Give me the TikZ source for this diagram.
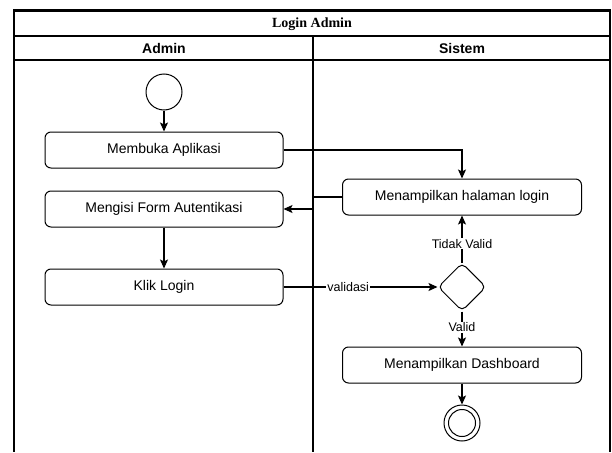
\documentclass[tikz,border=0pt]{standalone}
\usepackage{fontspec}
\setmainfont{Liberation Sans}
\newfontfamily\titlefont{Liberation Serif}
\usetikzlibrary{shapes.geometric,arrows.meta}
\tikzset{
  x=1pt,y=-1pt,
  act/.style={draw,rounded corners=6pt,minimum width=238pt,minimum height=36pt,inner sep=0pt,font=\fontsize{14}{16}\selectfont,line width=1pt},
  dec/.style={draw,diamond,rounded corners=5pt,minimum width=48pt,minimum height=48pt,inner sep=0pt,line width=1pt},
  startnode/.style={draw,circle,minimum size=36pt,inner sep=0pt,line width=1pt},
  flow/.style={line width=1.1pt,-{Stealth[length=9pt,width=8pt,inset=2pt]}},
  lbl/.style={fill=white,inner sep=1pt,font=\fontsize{12.5}{14}\selectfont},
  frame/.style={line width=1.4pt},
}
\begin{document}
\begin{tikzpicture}
\useasboundingbox (0,0) rectangle (612,452);
% swimlane frame
\draw[line width=3pt] (13,11) -- (611,11);
\draw[line width=2.5pt] (14,10) -- (14,452);
\draw[frame] (610,10) -- (610,452);
\draw[frame] (14,36) -- (610,36);
\draw[frame] (14,60) -- (610,60);
\draw[frame] (313,36) -- (313,452);
\node[font=\titlefont\bfseries\fontsize{14}{16}\selectfont] (title) at (312,24) {Login Admin};
\node[font=\bfseries\fontsize{14}{16}\selectfont] (hadmin) at (164,48) {Admin};
\node[font=\bfseries\fontsize{14}{16}\selectfont] (hsistem) at (462,48) {Sistem};
% nodes
\node[startnode] (start) at (164,92) {};
\node[act] (membuka) at (164,150) {Membuka Aplikasi};
\node[act] (mengisi) at (164,209) {Mengisi Form Autentikasi};
\node[act] (klik) at (164,287) {Klik Login};
\node[act,minimum width=239pt] (halaman) at (462,197) {Menampilkan halaman login};
\node[dec] (cek) at (462,287) {};
\node[act,minimum width=239pt] (dash) at (462,365) {Menampilkan Dashboard};
\node[startnode] (end) at (462,423) {};
\node[draw,circle,minimum size=27pt,inner sep=0pt,line width=1pt] (endin) at (end) {};
\coordinate (bend1) at (313,197);
\coordinate (bend2) at (313,209);
% connectors
\draw[flow] (start) -- (membuka);
\draw[flow] (membuka.east) -| (halaman.north);
\draw[flow] (halaman.west) -- (bend1) -- (bend2) -- (mengisi.east);
\draw[flow] (mengisi) -- (klik);
\draw[flow] (klik.east) -- (cek.west) node[lbl,pos=0.42] {validasi};
\draw[flow] (cek.north) -- (halaman.south) node[lbl,pos=0.4] {Tidak Valid};
\draw[flow] (cek.south) -- (dash.north) node[lbl,pos=0.45] {Valid};
\draw[flow] (dash) -- (end);
\end{tikzpicture}
\end{document}
